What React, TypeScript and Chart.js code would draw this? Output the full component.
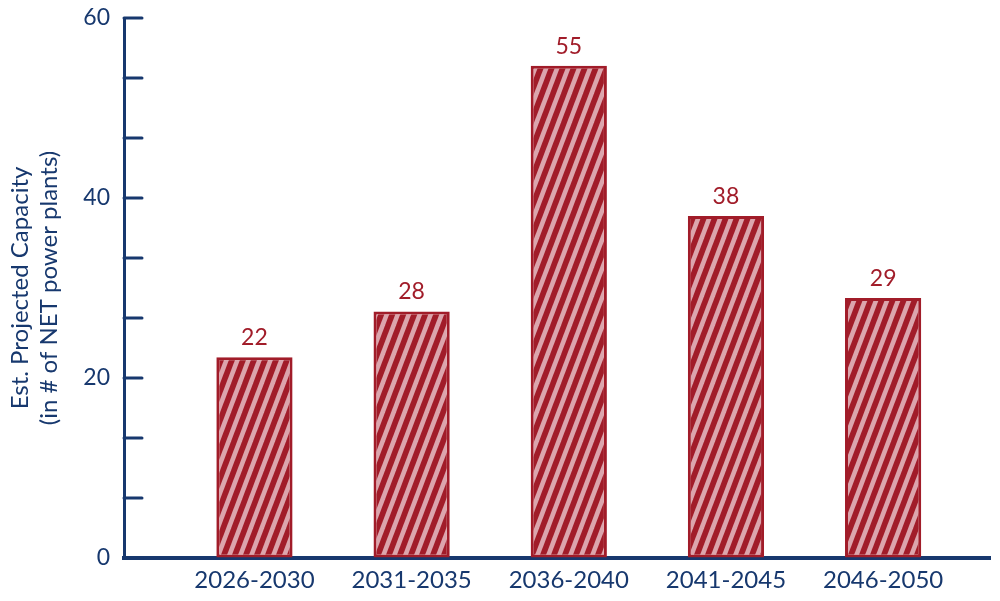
import React, { useEffect, useRef } from "react";
import { Chart, registerables } from "chart.js";

Chart.register(...registerables);

const categories = ["2026-2030", "2031-2035", "2036-2040", "2041-2045", "2046-2050"];
const capacityValues = [22.3, 27.4, 54.7, 38.0, 28.9];
const capacityLabels = ["22", "28", "55", "38", "29"];
const yMajorTicks = [0, 20, 40, 60];
const yMinorPerMajor = 3;
const yTitle = ["Est. Projected Capacity", "(in # of NET power plants)"];

const NAVY = "#17386e";
const RED = "#a11c29";
const PINK = "#dca5ad";
const FONT = "Lato, 'Open Sans', sans-serif";

function makeStripePattern(): CanvasPattern | string {
  const c = document.createElement("canvas");
  const w = 11;
  const h = 29;
  c.width = w;
  c.height = h;
  const ctx = c.getContext("2d");
  if (!ctx) return RED;
  ctx.fillStyle = RED;
  ctx.fillRect(0, 0, w, h);
  ctx.strokeStyle = PINK;
  ctx.lineWidth = 4.6;
  for (let k = -2; k <= 2; k++) {
    ctx.beginPath();
    ctx.moveTo(k * w - w, 2 * h);
    ctx.lineTo(k * w + 2 * w, -h);
    ctx.stroke();
  }
  const p = ctx.createPattern(c, "repeat");
  return p || RED;
}

export default function App() {
  const ref = useRef<HTMLCanvasElement | null>(null);

  useEffect(() => {
    if (!ref.current) return;
    const pattern = makeStripePattern();
    const step = yMajorTicks[1] / yMinorPerMajor;
    const yTickValues: number[] = [];
    const yMax = yMajorTicks[yMajorTicks.length - 1];
    for (let i = 0; i * step <= yMax + 1e-9; i++) yTickValues.push(i * step);

    const innerTicks = {
      id: "innerTicks",
      afterDraw(chart: any) {
        const ys = chart.scales.y;
        const ctx = chart.ctx;
        const left = chart.chartArea.left;
        ctx.save();
        ctx.strokeStyle = NAVY;
        ctx.lineWidth = 3;
        ctx.lineCap = "round";
        ys.ticks.forEach((t: any) => {
          const py = ys.getPixelForValue(t.value);
          ctx.beginPath();
          ctx.moveTo(left, py);
          ctx.lineTo(left + 18, py);
          ctx.stroke();
        });
        ctx.restore();
      },
    };

    const barLabels = {
      id: "barLabels",
      afterDatasetsDraw(chart: any) {
        const ctx = chart.ctx;
        const meta = chart.getDatasetMeta(0);
        ctx.save();
        ctx.fillStyle = RED;
        ctx.font = `23px ${FONT}`;
        ctx.textAlign = "center";
        ctx.textBaseline = "bottom";
        meta.data.forEach((el: any, i: number) => {
          ctx.fillText(capacityLabels[i], el.x, el.y - 8);
        });
        ctx.restore();
      },
    };

    const chart = new Chart(ref.current, {
      type: "bar",
      data: {
        datasets: [
          {
            data: capacityValues.map((v, i) => ({ x: i, y: v })),
            backgroundColor: pattern as any,
            borderColor: RED,
            borderWidth: 3,
            borderSkipped: false,
            barPercentage: 0.485,
            categoryPercentage: 1,
          },
        ],
      },
      options: {
        animation: false,
        responsive: false,
        maintainAspectRatio: false,
        layout: { padding: { top: 18, right: 10, left: 0, bottom: 0 } },
        plugins: { legend: { display: false }, tooltip: { enabled: false } },
        scales: {
          x: {
            type: "linear",
            offset: false,
            min: -0.83,
            max: 4.68,
            afterBuildTicks(scale: any) {
              scale.ticks = categories.map((_, i) => ({ value: i }));
            },
            afterFit(scale: any) {
              scale.height = 43;
              scale.paddingLeft = 0;
              scale.paddingRight = 0;
            },
            grid: { display: true, drawOnChartArea: false, drawTicks: false, color: "rgba(0,0,0,0)" },
            border: { display: true, color: NAVY, width: 4 },
            ticks: {
              color: NAVY,
              font: { family: FONT, size: 24 },
              padding: 8,
              maxRotation: 0,
              autoSkip: false,
              callback: (v: any) => categories[Math.round(Number(v))] ?? "",
            },
          },
          y: {
            type: "linear",
            min: 0,
            max: yMax,
            afterBuildTicks(scale: any) {
              scale.ticks = yTickValues.map((v) => ({ value: v }));
            },
            afterFit(scale: any) {
              scale.width = 124;
              scale.paddingTop = 0;
              scale.paddingBottom = 0;
            },
            grid: { display: true, drawOnChartArea: false, drawTicks: false, color: "rgba(0,0,0,0)" },
            border: { display: true, color: NAVY, width: 3 },
            ticks: {
              color: NAVY,
              font: { family: FONT, size: 23 },
              padding: 14,
              autoSkip: false,
              callback: (v: any) => {
                const n = Number(v);
                const r = Math.round(n);
                return Math.abs(n - r) < 1e-6 && yMajorTicks.includes(r) ? String(r) : "";
              },
            },
            title: {
              display: true,
              text: yTitle,
              color: NAVY,
              font: { family: FONT, size: 24 },
              padding: { top: 6, bottom: 0 },
            },
          },
        },
      },
      plugins: [innerTicks, barLabels],
    });
    return () => chart.destroy();
  }, []);

  return (
    <div style={{ position: "fixed", left: 0, top: 0, width: 1000, height: 601, background: "#fff" }}>
      <canvas ref={ref} width={1000} height={601} style={{ width: 1000, height: 601, display: "block" }} />
    </div>
  );
}
